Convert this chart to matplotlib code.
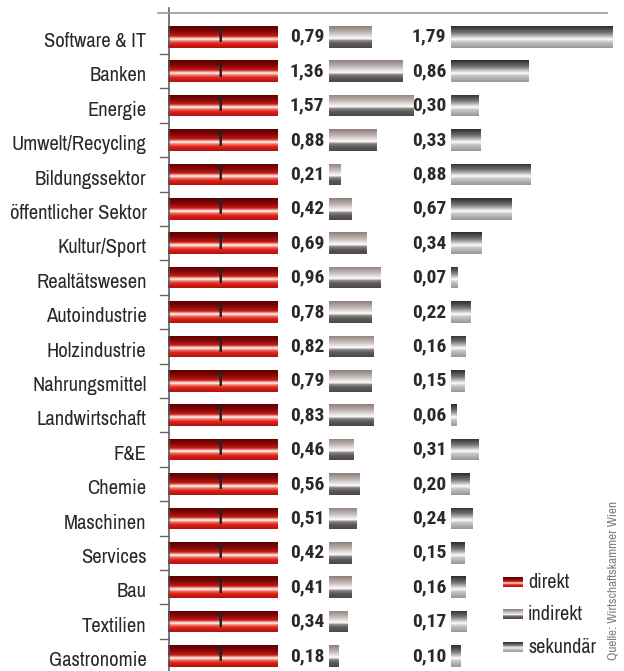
import matplotlib
matplotlib.use("Agg")
import matplotlib.pyplot as plt
import numpy as np
from matplotlib.colors import LinearSegmentedColormap
from matplotlib.lines import Line2D
from matplotlib.transforms import ScaledTranslation
from matplotlib import font_manager

fonts = font_manager.fontManager.ttflist
def pick(cands, bold=False):
    for c in cands:
        for f in fonts:
            if f.name == c and (not bold or f.weight in (700, 'bold')):
                return c
    return 'DejaVu Sans'

fam = pick(['Archivo Narrow', 'Roboto Condensed', 'Liberation Sans Narrow', 'Fira Sans Condensed'])
fam_b = pick(['Archivo Narrow', 'Roboto Condensed', 'Liberation Sans Narrow', 'Fira Sans Condensed'], bold=True)
fam_one = pick(['Roboto Condensed', 'Fira Sans Condensed', 'Barlow Condensed', 'Archivo Narrow'])
plt.rcParams['font.family'] = [fam, 'DejaVu Sans']

# data
branchen = ['Software & IT', 'Banken', 'Energie', 'Umwelt/Recycling', 'Bildungssektor',
            'öffentlicher Sektor', 'Kultur/Sport', 'Realtätswesen', 'Autoindustrie',
            'Holzindustrie', 'Nahrungsmittel', 'Landwirtschaft', 'F&E', 'Chemie',
            'Maschinen', 'Services', 'Bau', 'Textilien', 'Gastronomie']
direkt = [1] * 19
indirekt = [0.79, 1.36, 1.57, 0.88, 0.21, 0.42, 0.69, 0.96, 0.78, 0.82,
            0.79, 0.83, 0.46, 0.56, 0.51, 0.42, 0.41, 0.34, 0.18]
sekundaer = [1.79, 0.86, 0.30, 0.33, 0.88, 0.67, 0.34, 0.07, 0.22, 0.16,
             0.15, 0.06, 0.31, 0.20, 0.24, 0.15, 0.16, 0.17, 0.10]

txt = '#2b2829'
cm_dir = LinearSegmentedColormap.from_list('d', [
    (0, '#5a0000'), (0.25, '#860808'), (0.45, '#c41a16'), (0.55, '#f2b4a8'),
    (0.6, '#ffffff'), (0.68, '#f27a68'), (0.8, '#e0241c'), (1, '#b01010')])
cm_ind = LinearSegmentedColormap.from_list('i', [
    (0, '#8c7e7a'), (0.3, '#c2b8b5'), (0.5, '#efebea'), (0.58, '#ffffff'),
    (0.66, '#8a8486'), (0.8, '#5e5a5c'), (1, '#4c484a')])
cm_sek = LinearSegmentedColormap.from_list('s', [
    (0, '#2c2c2c'), (0.3, '#737373'), (0.52, '#d8d8d8'), (0.6, '#ffffff'),
    (0.7, '#cacaca'), (1, '#979797')])
grad = np.linspace(0, 1, 64).reshape(-1, 1)

W, H = 624, 671
fig = plt.figure(figsize=(W / 100, H / 100), dpi=100)

top_px = 13.3
row0 = 36.8
step = 34.4
ylim = ((H - row0) / step, -(row0 - top_px) / step)

def make_ax(x0, width_px, per_unit):
    ax = fig.add_axes([x0 / W, 0, width_px / W, (H - top_px) / H])
    ax.set_xlim(0, width_px / per_unit)
    ax.set_ylim(*ylim)
    for s in ax.spines.values():
        s.set_visible(False)
    ax.set_xticks([])
    ax.set_yticks([])
    ax.patch.set_visible(False)
    return ax

ax_d = make_ax(168, 112, 110)
ax_i = make_ax(329, 110, 54)
ax_s = make_ax(451, 170, 90.3)

y = np.arange(len(branchen))
bh = 0.63

def grad_bars(ax, vals, cmap):
    xl = ax.get_xlim()
    bars = ax.barh(y, vals, height=bh, color='none', edgecolor='none')
    for r in bars:
        x0, y0, w, h = r.get_x(), r.get_y(), r.get_width(), r.get_height()
        im = ax.imshow(grad, cmap=cmap, aspect='auto', origin='upper',
                       extent=(x0, x0 + w, y0 + h, y0), interpolation='bilinear')
        im.set_clip_path(r)
    ax.set_xlim(*xl)
    ax.set_ylim(*ylim)
    return bars

grad_bars(ax_d, direkt, cm_dir)
grad_bars(ax_i, indirekt, cm_ind)
grad_bars(ax_s, sekundaer, cm_sek)

for i, v in enumerate(direkt):
    ax_d.text(v * 0.47, i, str(v), ha='center', va='center', fontsize=15,
              fontweight='medium', family=[fam_one, 'DejaVu Sans'], color='#222222')
for ax, vals in ((ax_i, indirekt), (ax_s, sekundaer)):
    for i, v in enumerate(vals):
        ax.annotate(f'{v:.2f}'.replace('.', ','), (0, i), xytext=(-3.5, 0),
                    textcoords='offset points', ha='right', va='center',
                    fontsize=14, fontweight='bold', family=[fam_b, 'DejaVu Sans'],
                    color=txt, annotation_clip=False)

# category labels and ticks on the direct axis
ax_d.set_yticks(y)
ax_d.set_yticklabels(branchen, fontsize=14.8, color=txt)
ax_d.tick_params(axis='y', length=0, pad=21.5 * 0.72)
shift = ScaledTranslation(0, -2 / 72, fig.dpi_scale_trans)
for lbl in ax_d.get_yticklabels():
    lbl.set_transform(lbl.get_transform() + shift)
for yt in y[:-1] + 0.5:
    ax_d.plot([-8 / 110, 0], [yt, yt], color='#666666', lw=1, clip_on=False)

# axis lines
fig.add_artist(Line2D([169 / W, 169 / W], [0, 1 - 8 / H], color='#555555', lw=1.1))
fig.add_artist(Line2D([158 / W, 607 / W], [1 - top_px / H] * 2, color='#999999', lw=1.2))

# legend
ax_l = fig.add_axes([503 / W, 0, 120 / W, 1])
for cy, lab, cm in ((581.7, 'direkt', cm_dir), (614, 'indirekt', cm_ind), (646.7, 'sekundär', cm_sek)):
    ax_l.imshow(grad, cmap=cm, aspect='auto', extent=(0, 20, cy + 5, cy - 5),
                interpolation='bilinear')
    ax_l.text(25, cy + 1, lab, ha='left', va='center', fontsize=14.5, color=txt)
ax_l.set_xlim(0, 120)
ax_l.set_ylim(H, 0)
ax_l.axis('off')

fig.text(613 / W, 1 - 660 / H, 'Quelle: Wirtschaftskammer Wien', rotation=90,
         ha='center', va='bottom', fontsize=9.5, color='#808080')

fig.savefig('out.png', dpi=100)
